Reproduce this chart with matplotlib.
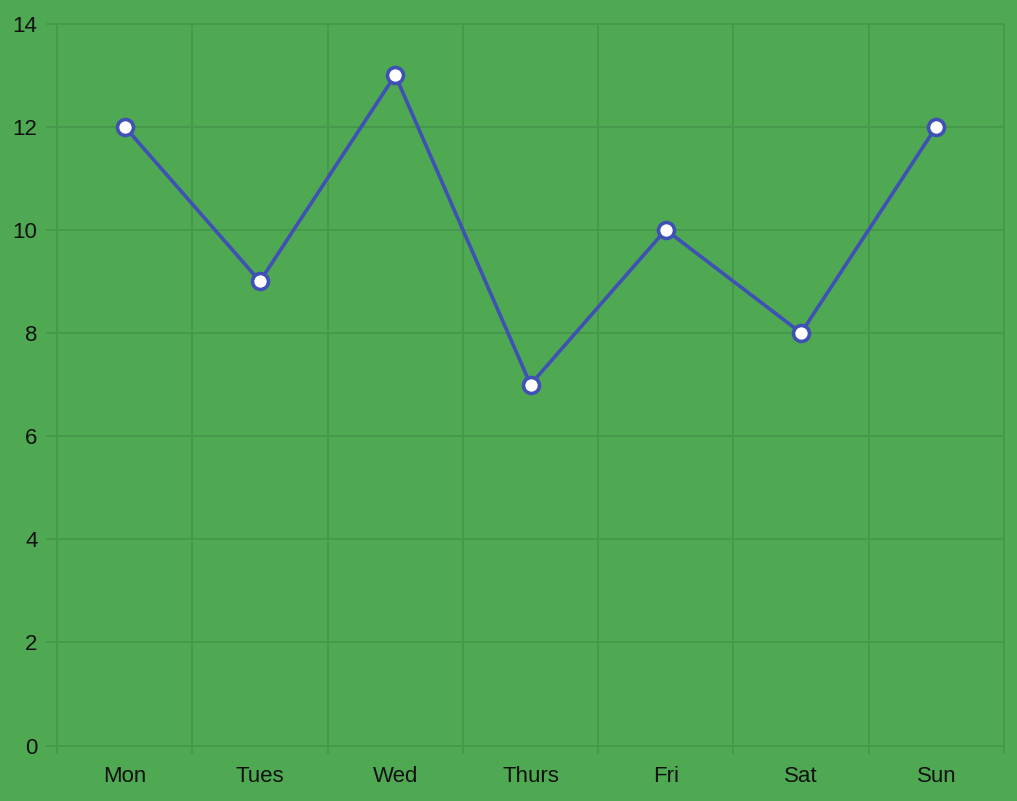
import numpy as np
import matplotlib
matplotlib.use('Agg')
import matplotlib.pyplot as plt

days = ['Mon', 'Tues', 'Wed', 'Thurs', 'Fri', 'Sat', 'Sun']
values = [12, 9, 13, 7, 10, 8, 12]

bg = '#4fa952'
grid_c = '#46984a'
line_c = '#3f51b5'

plt.rcParams['font.family'] = ['Liberation Sans', 'DejaVu Sans']

fig = plt.figure(figsize=(10.17, 8.01), dpi=100, facecolor=bg)
ax = fig.add_axes([57/1017, 55.5/801, 947/1017, 722/801])
ax.set_facecolor(bg)

x = np.arange(len(days)) + 0.5
ax.plot(x, values, color=line_c, linewidth=2.6, marker='o', markersize=11.5,
        markerfacecolor='white', markeredgecolor=line_c, markeredgewidth=2.6,
        zorder=3)

ax.set_xlim(0, len(days))
ax.set_ylim(0, 14)
ax.set_yticks(np.arange(0, 15, 2))
ax.set_xticks(np.arange(len(days) + 1))
ax.set_xticklabels([])
ax.set_xticks(x, minor=True)
ax.set_xticklabels(days, minor=True)

ax.grid(True, color=grid_c, linewidth=1.4)
ax.set_axisbelow(True)
for gl in ax.get_xgridlines() + ax.get_ygridlines():
    gl.set_clip_on(False)
for s in ax.spines.values():
    s.set_visible(False)

ax.tick_params(axis='y', length=8, width=1.4, color=grid_c, labelsize=16,
               labelcolor='#111111', pad=6)
ax.tick_params(axis='x', which='major', length=6, width=1.4, color=grid_c)
ax.tick_params(axis='x', which='minor', length=0, labelsize=16,
               labelcolor='#111111', pad=15)

fig.savefig('out.png', dpi=100, facecolor=bg)
